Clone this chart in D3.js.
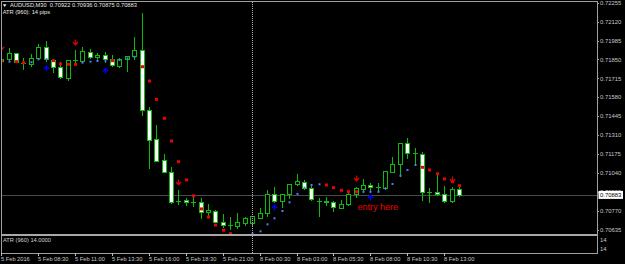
<!DOCTYPE html>
<html><head><meta charset="utf-8">
<script src="https://cdn.jsdelivr.net/npm/d3@7/dist/d3.min.js"></script>
<style>html,body{margin:0;padding:0;background:#000;overflow:hidden}svg{display:block}</style>
</head><body>
<svg id="c" width="625" height="264"></svg>
<script>
// ---------------- DATA ----------------
const symbolTitle = "AUDUSD,M30";
const headerValues = ["0.70922", "0.70936", "0.70875", "0.70883"];
const indicatorTitle = "ATR (960): 14 pips";
const subWindowTitle = "ATR (960) 14.0000";
const subWindowLabels = ["14", "14"];

const opens = [0.71839,0.71851,0.71894,0.71827,0.71817,0.71858,0.71937,0.71846,0.71794,0.71720,
0.71846,0.71841,0.71905,0.71869,0.71882,0.71851,0.71805,0.71851,0.71874,0.71917,
0.71489,0.71280,0.71132,0.71044,0.70840,0.70847,0.70831,0.70835,0.70759,0.70770,
0.70692,0.70668,0.70663,0.70680,0.70683,0.70720,0.70756,0.70887,0.70840,0.70887,
0.70959,0.70977,0.70935,0.70843,0.70840,0.70830,0.70792,0.70816,0.70887,0.70925,
0.70954,0.70937,0.70935,0.71049,0.71102,0.71251,0.71180,0.71175,0.70906,0.70902,
0.70887,0.70840,0.70922];
const highs = [0.71858,0.71934,0.71897,0.71862,0.71889,0.71958,0.71984,0.71853,0.71834,0.71846,
0.71917,0.71941,0.71922,0.71898,0.71901,0.71882,0.71858,0.71877,0.72010,0.72179,
0.71513,0.71382,0.71173,0.71084,0.70918,0.70861,0.70882,0.70863,0.70816,0.70775,
0.70745,0.70725,0.70752,0.70722,0.70735,0.70788,0.70918,0.70940,0.70890,0.70963,
0.71030,0.70990,0.70954,0.70863,0.70870,0.70840,0.70847,0.70894,0.70942,0.70997,
0.70966,0.70966,0.71054,0.71156,0.71251,0.71287,0.71220,0.71192,0.70930,0.71037,
0.70949,0.70942,0.70936];
const lows = [0.71830,0.71846,0.71830,0.71780,0.71803,0.71851,0.71839,0.71762,0.71720,0.71703,
0.71822,0.71834,0.71858,0.71846,0.71834,0.71803,0.71798,0.71770,0.71851,0.71453,
0.71073,0.71125,0.71047,0.70825,0.70816,0.70811,0.70806,0.70720,0.70735,0.70690,
0.70656,0.70640,0.70649,0.70668,0.70668,0.70716,0.70735,0.70835,0.70799,0.70861,
0.70954,0.70925,0.70847,0.70735,0.70811,0.70768,0.70790,0.70811,0.70870,0.70906,
0.70906,0.70906,0.70925,0.71044,0.71020,0.71144,0.71097,0.70847,0.70835,0.70882,
0.70830,0.70835,0.70875];
const closes = [0.71851,0.71894,0.71834,0.71828,0.71858,0.71937,0.71851,0.71798,0.71722,0.71846,
0.71845,0.71910,0.71865,0.71882,0.71851,0.71810,0.71851,0.71874,0.71917,0.71489,
0.71275,0.71127,0.71049,0.70830,0.70838,0.70830,0.70830,0.70763,0.70775,0.70692,
0.70668,0.70667,0.70688,0.70716,0.70730,0.70752,0.70887,0.70840,0.70887,0.70959,
0.70982,0.70935,0.70852,0.70842,0.70830,0.70799,0.70816,0.70887,0.70930,0.70954,
0.70942,0.70938,0.71054,0.71102,0.71251,0.71180,0.71179,0.70906,0.70905,0.70887,
0.70840,0.70925,0.70883];

// trailing stop dots (null = not visible)
const stopValues = [0.71839,0.71834,0.71834,0.71827,0.71830,0.71851,0.71853,0.71841,0.71817,0.71815,
0.71815,0.71827,0.71834,0.71839,0.71841,0.71841,0.71846,0.71858,0.71869,0.71798,
0.71696,0.71565,0.71430,0.71268,0.71120,0.70990,0.70877,0.70783,0.70725,0.70668,
0.70631,0.70606,null,null,0.70606,0.70623,0.70673,0.70716,0.70768,0.70830,
0.70890,0.70935,0.70954,0.70959,0.70954,0.70935,0.70916,0.70906,0.70906,0.70906,
0.70906,0.70906,0.70930,0.70961,0.71020,0.71061,0.71097,0.71080,0.71061,0.71034,
0.70997,0.70977,0.70949];
const stopSide = "rbrrbbbrrrrbbbbrbbbrrrrrrrrrrrrr--bbbbbbbbbbrrrrrbbbbbbbbrrrrrr";

const sellArrowIndex = [0, 10, 24, 48, 61];
const sellArrowPrice = [0.71917, 0.71953, 0.70954, 0.70982, 0.70973];
const buyArrowIndex = [6, 14, 37, 50];
const buyArrowPrice = [0.71805, 0.71787, 0.70811, 0.70882];

const priceTicks = [0.72255,0.72120,0.71985,0.71850,0.71715,0.71580,0.71445,0.71310,0.71175,0.71040,0.70905,0.70770,0.70635];
const bidPrice = 0.70883;

const timeTickIndex = [0,5,10,15,20,25,30,35,40,45,50,55,60];
const timeTickLabels = ["5 Feb 2016","5 Feb 08:30","5 Feb 11:00","5 Feb 13:30","5 Feb 16:00","5 Feb 18:30",
  "5 Feb 21:00","8 Feb 00:30","8 Feb 03:00","8 Feb 05:30","8 Feb 08:00","8 Feb 10:30","8 Feb 13:00"];
const daySeparatorIndex = 34;

const noteText = "entry here";
const noteIndex = 48;
const notePrice = 0.70775;

// ---------------- DRAW ----------------
const W = 625, H = 264;
const plot = {l: 1, r: 597, t: 1, b: 234};
const sub = {t: 236, b: 253};
const FONT = "'Liberation Sans', Arial, sans-serif";
const GREEN = "#0dbb0d";

const svg = d3.select("#c");
svg.append("rect").attr("width", W).attr("height", H).attr("fill", "#000");

const x = d3.scaleLinear().domain([0, opens.length - 1]).range([1.3, 458.9]);
const y = d3.scaleLinear().domain([0.70604, 0.72267]).range([plot.b, plot.t]);
const cx = i => Math.round(x(i)) + 0.5;

svg.append("defs").append("clipPath").attr("id", "clipMain")
  .append("rect").attr("x", plot.l + 1).attr("y", plot.t + 1)
  .attr("width", plot.r - plot.l - 1).attr("height", plot.b - plot.t - 1);

const g = svg.append("g").attr("clip-path", "url(#clipMain)");

// bid line
g.append("line").attr("x1", plot.l).attr("x2", plot.r)
  .attr("y1", Math.round(y(bidPrice)) + 0.5).attr("y2", Math.round(y(bidPrice)) + 0.5)
  .attr("stroke", "#4a4a4a").attr("stroke-width", 1);

const bars = opens.map((o, i) => ({i, o, h: highs[i], l: lows[i], c: closes[i]}));

// wicks
g.selectAll("line.wick").data(bars).join("line").attr("class", "wick")
  .attr("x1", d => cx(d.i)).attr("x2", d => cx(d.i))
  .attr("y1", d => Math.round(y(d.h))).attr("y2", d => Math.round(y(d.l)) + 1)
  .attr("stroke", GREEN).attr("stroke-width", 1).attr("shape-rendering", "crispEdges");

// bodies
g.selectAll("rect.body").data(bars).join("rect").attr("class", "body")
  .attr("x", d => cx(d.i) - 2)
  .attr("y", d => Math.round(y(Math.max(d.o, d.c))) + 0.5)
  .attr("width", 4)
  .attr("height", d => Math.max(Math.round(y(Math.min(d.o, d.c))) - Math.round(y(Math.max(d.o, d.c))), 0.01))
  .attr("fill", d => d.c > d.o ? "#000" : "#fff")
  .attr("stroke", GREEN).attr("stroke-width", 1);

// stop dots
const dots = stopValues.map((v, i) => ({i, v, s: stopSide[i]})).filter(d => d.v !== null);
g.selectAll("rect.dot").data(dots).join("rect").attr("class", "dot")
  .attr("x", d => cx(d.i) - (d.s === "r" ? 1.5 : 1))
  .attr("y", d => y(d.v) - (d.s === "r" ? 1.5 : 1))
  .attr("width", d => d.s === "r" ? 3 : 2)
  .attr("height", d => d.s === "r" ? 3 : 2)
  .attr("fill", d => d.s === "r" ? "#ee0000" : "#4f7dff");

// sell arrows (tip at bottom)
g.selectAll("path.sell").data(sellArrowIndex.map((i, k) => ({i, p: sellArrowPrice[k]}))).join("path")
  .attr("class", "sell")
  .attr("transform", d => `translate(${cx(d.i)},${y(d.p)})`)
  .attr("d", "M0,-5.5V-0.5M-2.6,-3L0,-0.3L2.6,-3")
  .attr("fill", "none").attr("stroke", "#e00000").attr("stroke-width", 1.3);

// buy arrows (tip at top)
g.selectAll("path.buy").data(buyArrowIndex.map((i, k) => ({i, p: buyArrowPrice[k]}))).join("path")
  .attr("class", "buy")
  .attr("transform", d => `translate(${cx(d.i)},${y(d.p)})`)
  .attr("d", "M0,5.5V0.5M-2.6,3L0,0.3L2.6,3")
  .attr("fill", "none").attr("stroke", "#0000f0").attr("stroke-width", 1.5);

// annotation
g.append("text").attr("x", x(noteIndex) + 2).attr("y", y(notePrice))
  .attr("fill", "#ee0000").attr("font-family", FONT).attr("font-size", 9).text(noteText);

// day separator (dotted)
svg.append("line").attr("x1", cx(daySeparatorIndex)).attr("x2", cx(daySeparatorIndex))
  .attr("y1", plot.t + 1).attr("y2", sub.b)
  .attr("stroke", "#b8b8b8").attr("stroke-dasharray", "1,1").attr("stroke-width", 1);

// frame
const frame = svg.append("g").attr("shape-rendering", "crispEdges");
frame.append("line").attr("x1", plot.l).attr("x2", plot.r).attr("y1", 1.5).attr("y2", 1.5).attr("stroke", "#a0a0a0");
frame.append("line").attr("x1", 1.5).attr("x2", 1.5).attr("y1", 1).attr("y2", sub.b).attr("stroke", "#a0a0a0");
frame.append("line").attr("x1", plot.r + 0.5).attr("x2", plot.r + 0.5).attr("y1", 1).attr("y2", sub.b + 1).attr("stroke", "#a0a0a0");
frame.append("rect").attr("x", plot.l).attr("y", plot.b).attr("width", plot.r - plot.l).attr("height", 2).attr("fill", "#a8a8a8");
frame.append("line").attr("x1", plot.l).attr("x2", plot.r).attr("y1", sub.b + 0.5).attr("y2", sub.b + 0.5).attr("stroke", "#a0a0a0");

// price axis
const ya = svg.append("g");
ya.selectAll("line").data(priceTicks).join("line")
  .attr("x1", plot.r).attr("x2", plot.r + 2)
  .attr("y1", d => Math.round(y(d)) + 0.5).attr("y2", d => Math.round(y(d)) + 0.5)
  .attr("stroke", "#a0a0a0");
ya.selectAll("text").data(priceTicks).join("text")
  .attr("x", 600).attr("y", d => y(d) + 2.2)
  .attr("fill", "#c8c8c8").attr("font-family", FONT).attr("font-size", 5.9)
  .text(d => d.toFixed(5));

// bid price box
const by = y(bidPrice);
svg.append("rect").attr("x", 598.5).attr("y", by - 4).attr("width", 24.5).attr("height", 8).attr("fill", "#fff");
svg.append("text").attr("x", 600).attr("y", by + 2.2).attr("fill", "#000")
  .attr("font-family", FONT).attr("font-size", 5.9).text(bidPrice.toFixed(5));

// time axis
const xa = svg.append("g");
xa.selectAll("line").data(timeTickIndex).join("line")
  .attr("x1", d => cx(d)).attr("x2", d => cx(d)).attr("y1", sub.b).attr("y2", sub.b + 3)
  .attr("stroke", "#c0c0c0").attr("shape-rendering", "crispEdges");
xa.selectAll("text").data(timeTickIndex).join("text")
  .attr("x", d => cx(d) - 0.5).attr("y", 260.6)
  .attr("fill", "#c8c8c8").attr("font-family", FONT).attr("font-size", 5.7)
  .text((d, k) => timeTickLabels[k]);

// header
svg.append("path").attr("d", "M2.8,4.2H6.6L4.7,7Z").attr("fill", "#e8e8e8");
const hdr = svg.append("text").attr("x", 10).attr("y", 7.4).attr("fill", "#e8e8e8")
  .attr("font-family", FONT).attr("font-size", 5.7).attr("xml:space", "preserve");
hdr.text(symbolTitle + "  " + headerValues.join(" "));
svg.append("text").attr("x", 2.7).attr("y", 13.6).attr("fill", "#e8e8e8")
  .attr("font-family", FONT).attr("font-size", 5.7).text(indicatorTitle);

// sub window
svg.append("text").attr("x", 3).attr("y", 242.4).attr("fill", "#d0d0d0")
  .attr("font-family", FONT).attr("font-size", 5.7).text(subWindowTitle);
svg.selectAll("text.sublab").data(subWindowLabels).join("text").attr("class", "sublab")
  .attr("x", 600).attr("y", (d, k) => k === 0 ? 241.8 : 251.4)
  .attr("fill", "#c8c8c8").attr("font-family", FONT).attr("font-size", 5.9).text(d => d);
</script>
</body></html>
